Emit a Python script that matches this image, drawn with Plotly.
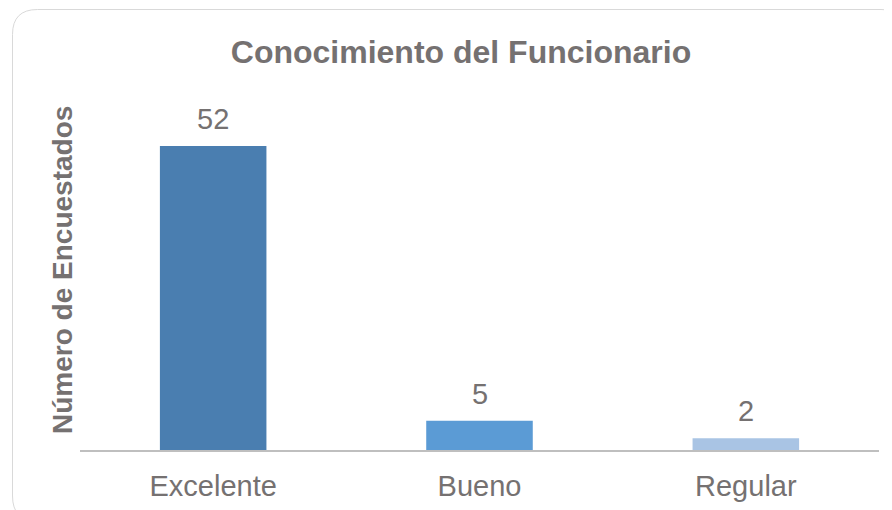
import plotly.graph_objects as go

categories = ["Excelente", "Bueno", "Regular"]
values = [52, 5, 2]
bar_colors = ["#4a7eb0", "#5b9bd5", "#a9c4e4"]

# page body has an 8px margin, so the figure is drawn 8px in from the top-left
W, H = 884, 502
ML, MR, MT, MB = 72, 13, 82, 60
PW, PH = W - ML - MR, H - MT - MB

def px_x(p):
    return (p - ML) / PW

def px_y(p):
    return (H - MB - p) / PH

TXT = "#757171"
FONT = "Liberation Sans, Arial, sans-serif"

fig = go.Figure(go.Bar(
    x=categories, y=values,
    marker=dict(color=bar_colors, line=dict(width=0)),
    width=0.4, hoverinfo="x+y",
))

for c, v in zip(categories, values):
    fig.add_annotation(x=c, y=v, text=str(v), showarrow=False, yanchor="bottom",
                       yshift=9, font=dict(size=29, color=TXT, family=FONT))

# rounded border
x0, x1, y0, y1, r = 4.5, 898, 1.5, 513, 25
pts = [
    ("M", x0 + r, y0), ("L", x1 - r, y0), ("Q", x1, y0, x1, y0 + r),
    ("L", x1, y1 - r), ("Q", x1, y1, x1 - r, y1), ("L", x0 + r, y1),
    ("Q", x0, y1, x0, y1 - r), ("L", x0, y0 + r), ("Q", x0, y0, x0 + r, y0),
]
path = ""
for p in pts:
    cmd = p[0]
    coords = p[1:]
    s = " ".join(f"{px_x(coords[i]):.5f},{px_y(coords[i+1]):.5f}" for i in range(0, len(coords), 2))
    path += f"{cmd}{s} "
path += "Z"

fig.update_layout(
    width=W, height=H,
    margin=dict(l=ML, r=MR, t=MT, b=MB),
    paper_bgcolor="white", plot_bgcolor="white",
    showlegend=False,
    font=dict(family=FONT, color=TXT),
    title=dict(text="<b>Conocimiento del Funcionario</b>", x=453 / W, xanchor="center",
               y=1 - 44 / H, yanchor="middle", yref="container",
               font=dict(size=32, color=TXT, family=FONT)),
    xaxis=dict(showline=True, linecolor="#bfbfbf", linewidth=2, ticks="",
               tickfont=dict(size=29, color=TXT, family=FONT), ticklabelstandoff=9,
               showgrid=False, fixedrange=True, automargin=False),
    yaxis=dict(range=[0, PH / ((450 - 146) / 52)], showticklabels=False, showgrid=False,
               zeroline=False, showline=False, ticks="", automargin=False),
    shapes=[dict(type="path", xref="paper", yref="paper", path=path,
                 line=dict(color="#d9d9d9", width=1), layer="below")],
)
fig.add_annotation(text="<b>Número de Encuestados</b>", textangle=-90,
                   xref="paper", yref="paper", x=px_x(54), y=px_y(262),
                   xanchor="center", yanchor="middle", showarrow=False,
                   font=dict(size=28, color=TXT, family=FONT))

fig.write_html("out.html")
